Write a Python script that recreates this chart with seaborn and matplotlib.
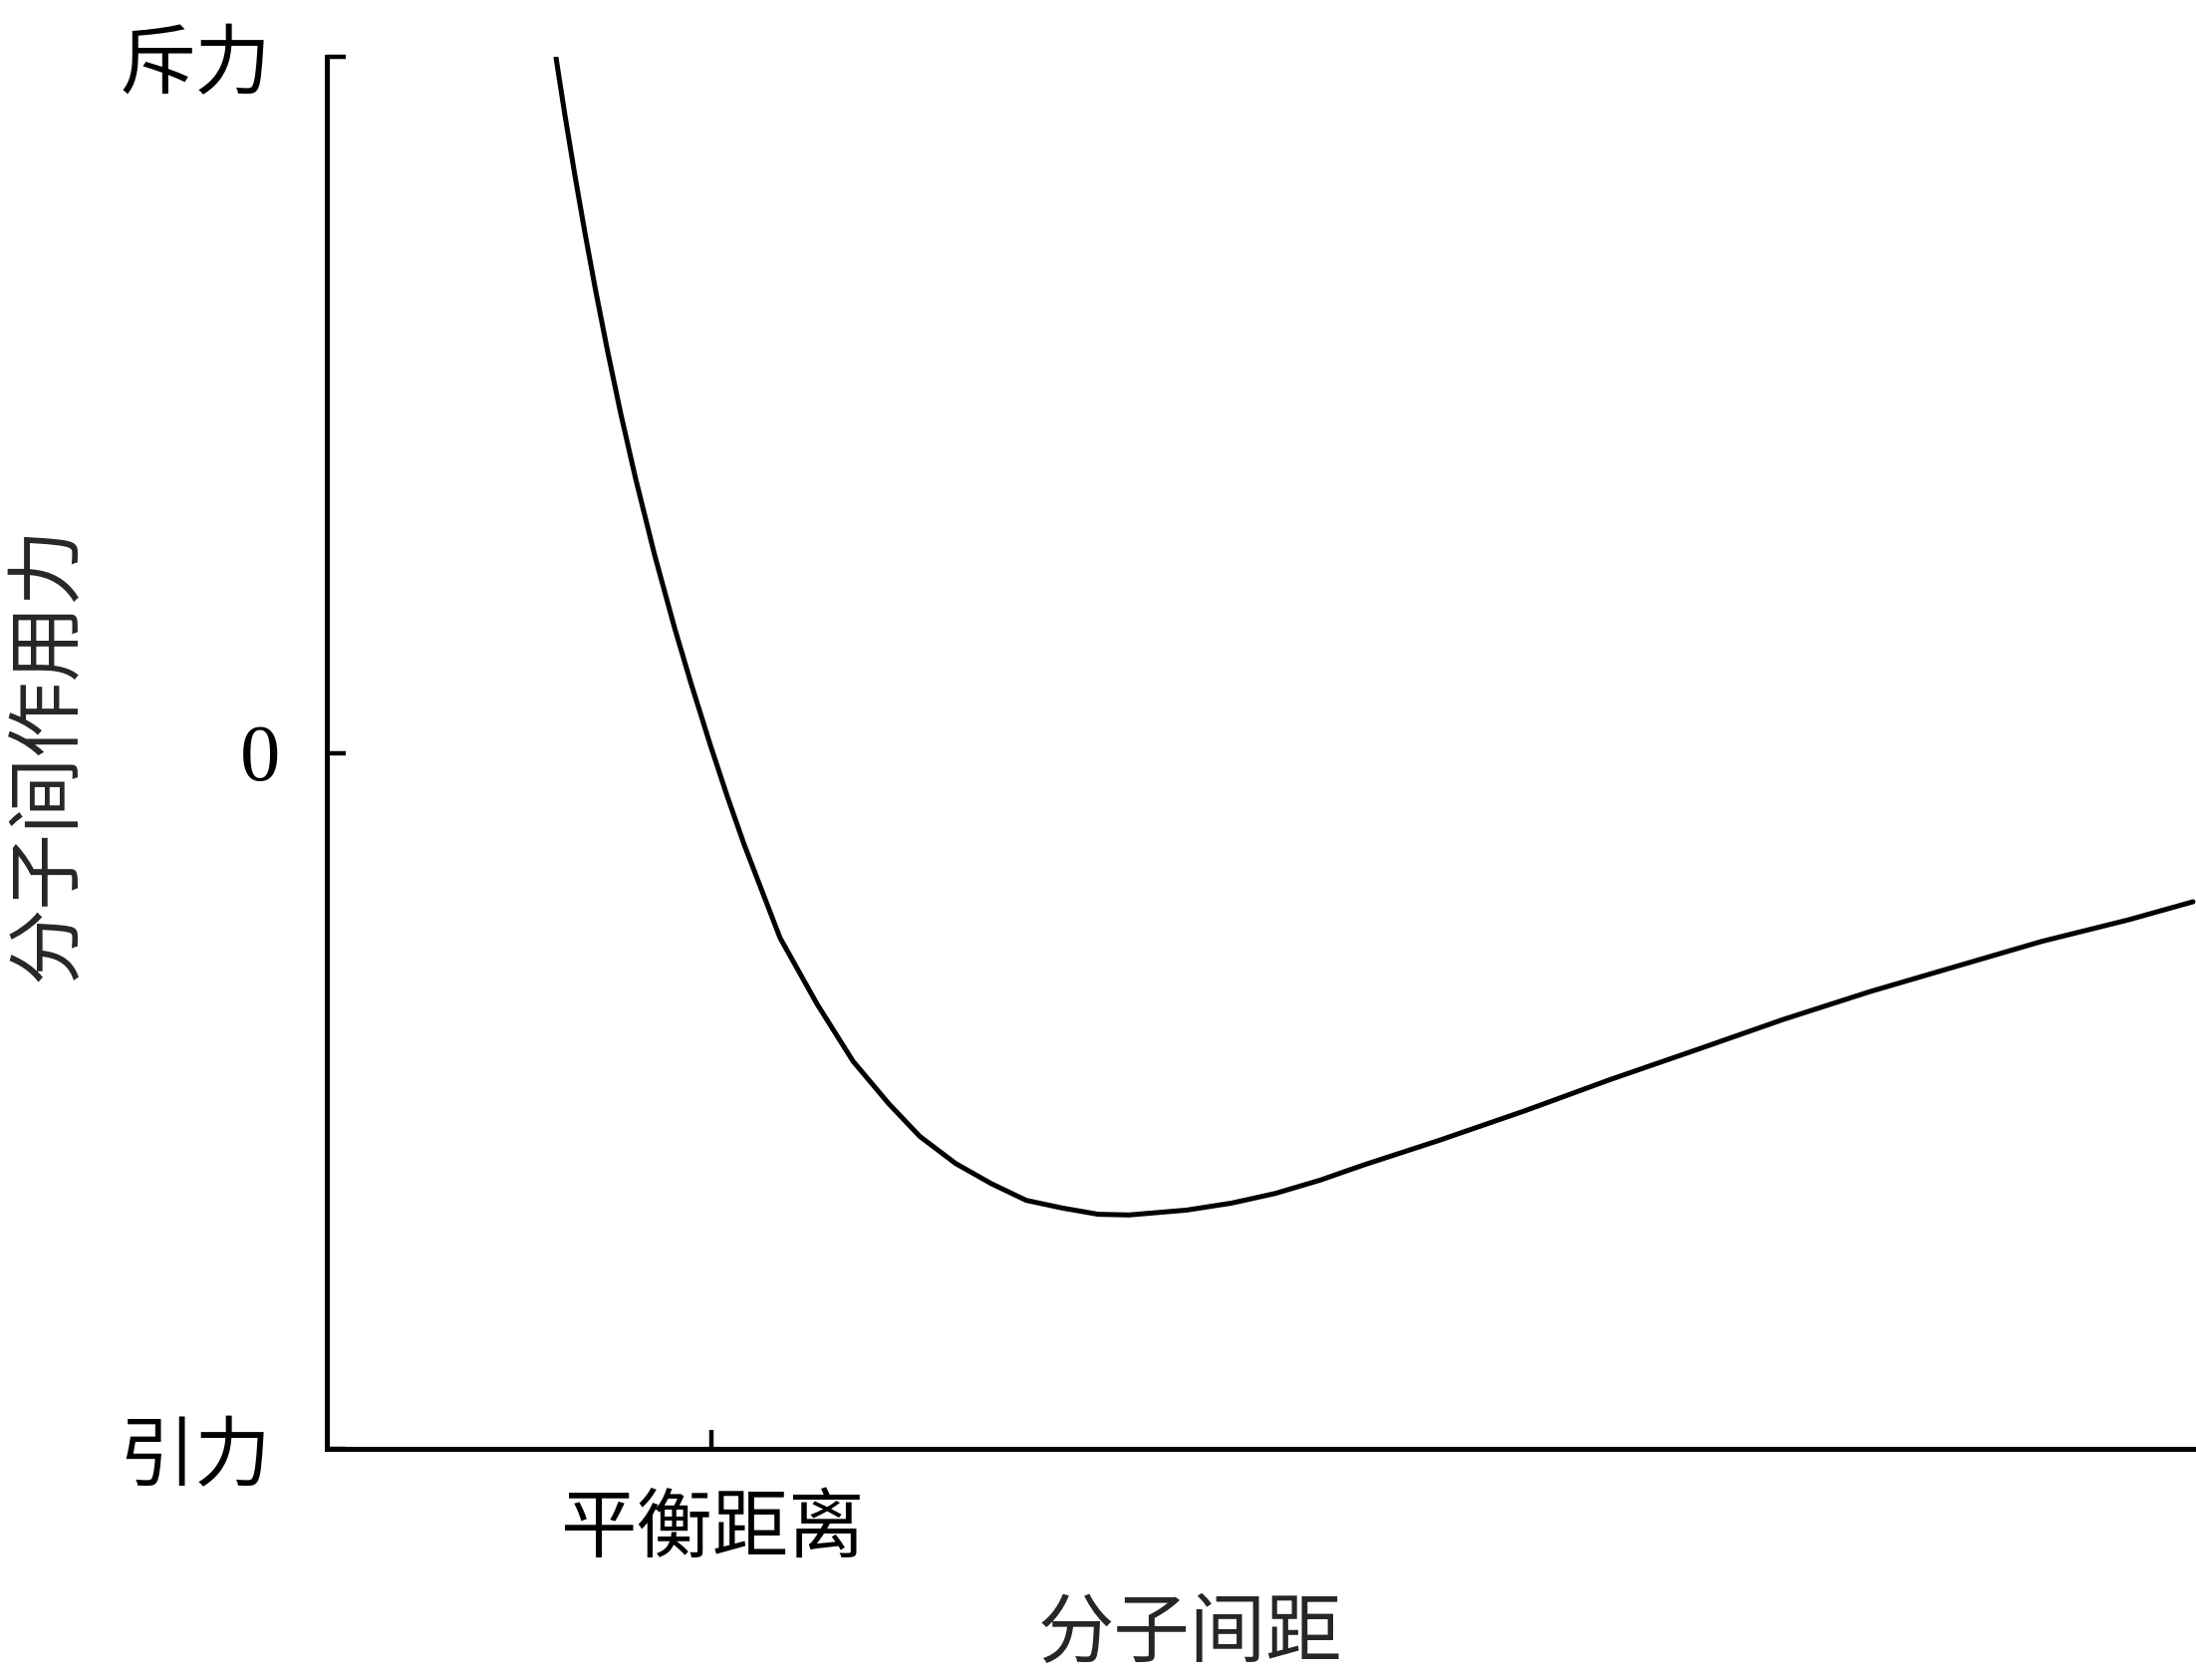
import numpy as np
import pandas as pd
import matplotlib
matplotlib.use("Agg")
import matplotlib.pyplot as plt
import matplotlib.transforms as mtransforms
from matplotlib import font_manager
import seaborn as sns

# ---- data (arbitrary units) ----
distance = [1.226, 1.274, 1.327, 1.381, 1.439, 1.503, 1.572, 1.652, 1.754, 1.860,
            1.946, 2.052, 2.143, 2.233, 2.425, 2.623, 2.815, 3.006, 3.172, 3.364,
            3.555, 3.742, 3.934, 4.126, 4.291, 4.600, 4.840, 5.075, 5.314, 5.549,
            5.949, 6.413, 6.871, 7.335, 7.793, 8.257, 8.715, 9.174, 9.638, 9.984]
force = [99.9, 91.6, 83.0, 74.7, 66.3, 57.6, 48.8, 39.4, 28.4, 18.0,
         10.2, 1.1, -6.3, -13.2, -26.6, -36.1, -44.3, -50.4, -55.1, -59.0,
         -61.9, -64.3, -65.4, -66.3, -66.4, -65.7, -64.7, -63.3, -61.4, -59.2,
         -55.7, -51.4, -46.9, -42.6, -38.3, -34.3, -30.7, -27.1, -24.0, -21.4]

x_tick_pos = [2.06]
x_tick_labels = ["平衡距离"]
y_tick_pos = [100, 0, -100]
y_tick_labels = ["斥力", "0", "引力"]
x_label = "分子间距"
y_label = "分子间作用力"

df = pd.DataFrame({"distance": distance, "force": force})

sns.set_style("white")
avail = {f.name for f in font_manager.fontManager.ttflist}
cjk = "Noto Serif CJK SC" if "Noto Serif CJK SC" in avail else "Noto Sans CJK SC"
plt.rcParams["font.family"] = [cjk, "Noto Sans CJK SC", "DejaVu Sans"]

fig = plt.figure(figsize=(22.04, 16.86), dpi=100)
ax = fig.add_axes([328 / 2204, (1686 - 1454) / 1686, 1 - 328 / 2204, (1454 - 57) / 1686])

sns.lineplot(data=df, x="distance", y="force", color="black", linewidth=3.6,
             ax=ax, sort=False, estimator=None)
for ln in ax.get_lines():
    ln.set_solid_joinstyle("round")
    ln.set_solid_capstyle("round")

ax.set_xlim(0, 10)
ax.set_ylim(-100, 100)

for s in ["top", "right"]:
    ax.spines[s].set_visible(False)
for s in ["left", "bottom"]:
    ax.spines[s].set_linewidth(3.6)
    ax.spines[s].set_color("black")

fs = 55
ax.set_xticks(x_tick_pos)
ax.set_xticklabels(x_tick_labels, fontsize=fs)
ax.set_yticks(y_tick_pos)
ax.set_yticklabels(y_tick_labels, fontsize=fs)

ax.tick_params(axis="both", direction="in", length=14, width=3.2, color="black",
               labelcolor="black", bottom=True, left=True, top=False, right=False)
ax.tick_params(axis="y", pad=40)
ax.tick_params(axis="x", pad=30)

for lbl in ax.get_yticklabels():
    if lbl.get_text() == "0":
        lbl.set_family(["Liberation Serif", "DejaVu Serif"])
        lbl.set_fontsize(58)
        lbl.set_transform(lbl.get_transform() +
                          mtransforms.ScaledTranslation(0.09, 0, fig.dpi_scale_trans))

ax.set_xlabel(x_label, fontsize=fs)
ax.set_ylabel(y_label, fontsize=fs)
ax.xaxis.set_label_coords(0.462, -0.105)
ax.yaxis.set_label_coords(-0.128, 0.5)

fig.savefig("out.png", dpi=100, facecolor="white")
